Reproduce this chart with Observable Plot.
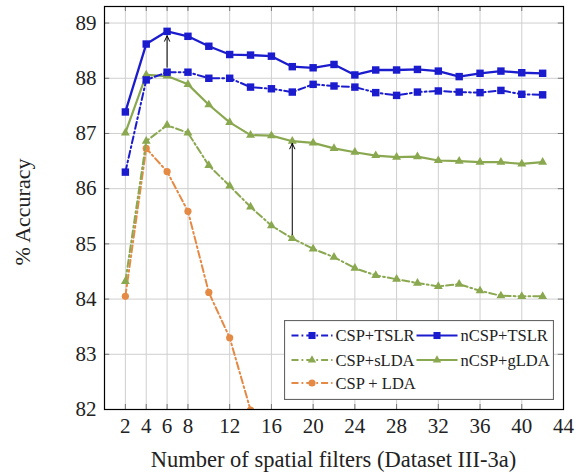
<!DOCTYPE html>
<html>
<head>
<meta charset="utf-8">
<script src="https://cdn.jsdelivr.net/npm/d3@7"></script>
<script src="https://cdn.jsdelivr.net/npm/@observablehq/plot@0.6"></script>
<style>
  html, body { margin: 0; padding: 0; background: white; }
  #wrap { position: relative; width: 588px; height: 475px; font-family: "Liberation Serif", "DejaVu Serif", serif; color: #222; }
  .xtitle { position: absolute; left: 104px; width: 459px; top: 447px; text-align: center; font-size: 22.5px; line-height: 26px; }
  .ytitle { position: absolute; left: 23px; top: 212px; transform: translate(-50%, -50%) rotate(-90deg); font-size: 22px; white-space: nowrap; }
  #legend { position: absolute; left: 284px; top: 320px; }
</style>
</head>
<body>
<div id="wrap">
  <div id="chart"></div>
  <div class="xtitle">Number of spatial filters (Dataset III-3a)</div>
  <div class="ytitle">% Accuracy</div>
  <div id="legend"></div>
</div>
<script>
// ---- data ----
const filters = [2,4,6,8,10,12,14,16,18,20,22,24,26,28,30,32,34,36,38,40,42];
const cspTslr  = [86.30,87.97,88.11,88.11,88.00,88.00,87.84,87.81,87.75,87.89,87.86,87.84,87.74,87.69,87.75,87.77,87.75,87.74,87.78,87.71,87.70];
const ncspTslr = [87.39,88.62,88.85,88.76,88.58,88.43,88.42,88.40,88.21,88.19,88.25,88.06,88.15,88.15,88.16,88.13,88.03,88.09,88.13,88.10,88.09];
const cspSlda  = [84.32,86.86,87.15,87.01,86.42,86.05,85.67,85.33,85.10,84.91,84.76,84.56,84.43,84.36,84.29,84.23,84.27,84.15,84.06,84.05,84.05];
const ncspGlda = [87.01,88.06,88.04,87.89,87.52,87.20,86.97,86.96,86.86,86.83,86.73,86.66,86.60,86.57,86.58,86.51,86.50,86.48,86.48,86.45,86.48];
const ldaFilters = [2,4,6,8,10,12,14];
const cspLda   = [84.05,86.73,86.31,85.59,84.12,83.30,81.99];

const xTicks = [2,4,6,8,12,16,20,24,28,32,36,40,44];
const yTicks = [82,83,84,85,86,87,88,89];

const arrowX    = [6, 18];
const arrowFrom = [88.20, 85.17];
const arrowTo   = [88.77, 86.82];

const seriesNames = ["CSP+TSLR","nCSP+TSLR","CSP+sLDA","nCSP+gLDA","CSP + LDA"];

// ---- styles ----
const BLUE = "#1c1ccf", GREEN = "#8aa84f", ORANGE = "#e48a45";
const DASHDOT = "7 3 1.8 3";

const rows = (xs, ys) => xs.map((x, i) => ({x, y: ys[i]}));
const arrows = arrowX.map((x, i) => ({x, y1: arrowFrom[i], y2: arrowTo[i]}));

const series = [
  {name: seriesNames[4], data: rows(ldaFilters, cspLda), color: ORANGE, dash: DASHDOT, symbol: "circle", r: 3.6, sw: 2},
  {name: seriesNames[2], data: rows(filters, cspSlda), color: GREEN, dash: DASHDOT, symbol: "triangle", r: 3.3, sw: 2},
  {name: seriesNames[3], data: rows(filters, ncspGlda), color: GREEN, dash: null, symbol: "triangle", r: 3.3, sw: 2.2},
  {name: seriesNames[0], data: rows(filters, cspTslr), color: BLUE, dash: DASHDOT, symbol: "square", r: 4.2, sw: 2},
  {name: seriesNames[1], data: rows(filters, ncspTslr), color: BLUE, dash: null, symbol: "square", r: 4.2, sw: 2.3}
];

const marks = [
  Plot.ruleX(xTicks, {stroke: "#cfcfcf", strokeWidth: 1}),
  Plot.ruleY(yTicks, {stroke: "#cfcfcf", strokeWidth: 1}),
  // inward ticks
  Plot.ruleX(xTicks, {y1: 82, y2: 82 + 5/55.3, stroke: "#777"}),
  Plot.ruleX(xTicks, {y1: 89.3, y2: 89.3 - 5/55.3, stroke: "#777"}),
  Plot.ruleY(yTicks, {x1: 0, x2: 0.5, stroke: "#777"}),
  Plot.ruleY(yTicks, {x1: 44, x2: 43.5, stroke: "#777"}),
  Plot.axisX(xTicks, {tickSize: 0, tickPadding: 9, fontSize: 21, label: null, fill: "#222", tickFormat: d3.format("d")}),
  Plot.axisY(yTicks, {tickSize: 0, tickPadding: 8, fontSize: 21, label: null, fill: "#222", tickFormat: d3.format("d")})
];
for (const s of series) {
  marks.push(Plot.line(s.data, {x: "x", y: "y", stroke: s.color, strokeWidth: s.sw, strokeDasharray: s.dash ?? undefined, clip: true}));
  marks.push(Plot.dot(s.data, {x: "x", y: "y", symbol: s.symbol, r: s.r, fill: s.color, stroke: "none", clip: true}));
}
marks.push(Plot.arrow(arrows, {x: "x", y1: "y1", y2: "y2", stroke: "black", strokeWidth: 1, headLength: 9, headAngle: 50}));
marks.push(Plot.frame({stroke: "black", strokeWidth: 1.2}));

const chart = Plot.plot({
  width: 588, height: 475,
  marginLeft: 104, marginRight: 25, marginTop: 6, marginBottom: 66,
  x: {domain: [0, 44]},
  y: {domain: [82, 89.3]},
  style: {fontFamily: "'Liberation Serif', 'DejaVu Serif', serif", fontSize: "21px", background: "white"},
  marks
});
document.getElementById("chart").appendChild(chart);

// ---- legend ----
const legendItems = [
  {name: seriesNames[0], color: BLUE, dash: DASHDOT, symbol: d3.symbolSquare, col: 0, row: 0},
  {name: seriesNames[1], color: BLUE, dash: null, symbol: d3.symbolSquare, col: 1, row: 0},
  {name: seriesNames[2], color: GREEN, dash: DASHDOT, symbol: d3.symbolTriangle, col: 0, row: 1},
  {name: seriesNames[3], color: GREEN, dash: null, symbol: d3.symbolTriangle, col: 1, row: 1},
  {name: seriesNames[4], color: ORANGE, dash: DASHDOT, symbol: d3.symbolCircle, col: 0, row: 2}
];
const lw = 270, lh = 80;
const lsvg = d3.select("#legend").append("svg").attr("width", lw).attr("height", lh);
lsvg.append("rect").attr("x", 0.5).attr("y", 0.5).attr("width", lw - 1).attr("height", lh - 1)
  .attr("fill", "white").attr("stroke", "#666").attr("stroke-width", 1.2);
const rowY = [15.5, 40, 63];
const colX = [7.5, 132.5];
for (const it of legendItems) {
  const x0 = colX[it.col], y0 = rowY[it.row];
  lsvg.append("line").attr("x1", x0).attr("x2", x0 + 41).attr("y1", y0).attr("y2", y0)
    .attr("stroke", it.color).attr("stroke-width", 2).attr("stroke-dasharray", it.dash);
  const size = it.symbol === d3.symbolSquare ? 50 : it.symbol === d3.symbolTriangle ? 30 : 40;
  lsvg.append("path").attr("d", d3.symbol(it.symbol, size)()).attr("transform", `translate(${x0 + 20.5},${y0})`).attr("fill", it.color);
  lsvg.append("text").attr("x", x0 + 44).attr("y", y0).attr("dy", "0.35em")
    .attr("font-family", "'Liberation Serif', serif").attr("font-size", 16.5).attr("fill", "#222").text(it.name);
}
</script>
</body>
</html>
